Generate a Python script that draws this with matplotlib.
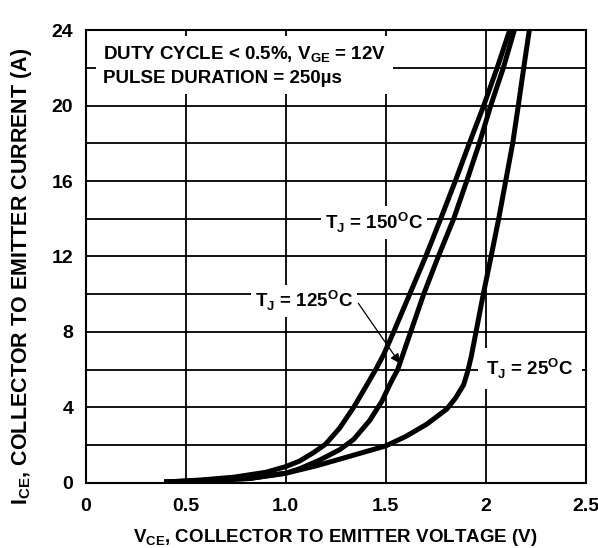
import matplotlib
matplotlib.use('Agg')
import matplotlib.pyplot as plt

plt.rcParams['font.family'] = ['Liberation Sans Narrow', 'Liberation Sans', 'DejaVu Sans']
plt.rcParams['font.weight'] = 'bold'
plt.rcParams['mathtext.fontset'] = 'custom'
plt.rcParams['mathtext.bf'] = 'Liberation Sans:weight=bold'
plt.rcParams['mathtext.rm'] = 'Liberation Sans:weight=bold'

# curve data
v_150 = [0.405, 0.57, 0.74, 0.9, 1.0, 1.07, 1.14, 1.2, 1.27, 1.34, 1.39, 1.45, 1.49, 1.54,
         1.62, 1.70, 1.775, 1.848, 1.918, 1.99, 2.057, 2.12]
i_150 = [0.04, 0.14, 0.29, 0.55, 0.85, 1.15, 1.6, 2.05, 2.9, 4.0, 4.9, 6.0, 6.8, 8.0,
         10.0, 12.0, 14.0, 16.0, 18.0, 20.0, 22.0, 24.0]

v_125 = [0.405, 0.6, 0.82, 1.0, 1.07, 1.17, 1.27, 1.34, 1.42, 1.48, 1.525, 1.56, 1.625,
         1.69, 1.763, 1.84, 1.905, 1.968, 2.025, 2.088, 2.143]
i_125 = [0.04, 0.12, 0.23, 0.5, 0.74, 1.2, 1.75, 2.3, 3.3, 4.3, 5.3, 6.0, 8.0,
         10.0, 12.0, 14.0, 16.0, 18.0, 20.0, 22.0, 24.0]

v_25 = [0.405, 0.6, 0.82, 1.0, 1.155, 1.32, 1.5, 1.6, 1.705, 1.805, 1.85, 1.89, 1.91,
        1.928, 1.948, 1.988, 2.027, 2.065, 2.10, 2.135, 2.163, 2.19, 2.218]
i_25 = [0.04, 0.1, 0.22, 0.5, 0.9, 1.4, 1.95, 2.45, 3.1, 3.9, 4.5, 5.2, 5.9,
        6.7, 7.8, 10.0, 12.0, 14.0, 16.0, 18.0, 20.0, 22.0, 24.0]

x_ticks = [0, 0.5, 1.0, 1.5, 2, 2.5]
x_tick_labels = ['0', '0.5', '1.0', '1.5', '2', '2.5']
y_ticks = [0, 4, 8, 12, 16, 20, 24]

fig = plt.figure(figsize=(5.98, 5.48), dpi=100)
ax = fig.add_axes([0.1433, 0.1192, 0.8361, 0.8255])

ax.set_xlim(0, 2.5)
ax.set_ylim(0, 24)
ax.set_xticks(x_ticks)
ax.set_xticklabels(x_tick_labels)
ax.set_yticks(y_ticks)
ax.set_yticks(range(0, 25, 2), minor=True)
ax.tick_params(which='both', length=0, labelsize=14)
ax.tick_params(axis='x', pad=11)
ax.tick_params(axis='y', pad=9)
for lab in ax.get_xticklabels() + ax.get_yticklabels():
    lab.set_fontweight('bold')

ax.grid(True, which='both', axis='y', color='black', lw=1.3)
ax.grid(True, which='major', axis='x', color='black', lw=1.3)
ax.set_axisbelow(True)
for s in ax.spines.values():
    s.set_linewidth(1.5)

ax.plot(v_150, i_150, color='black', lw=3.6)
ax.plot(v_125, i_125, color='black', lw=3.6)
ax.plot(v_25, i_25, color='black', lw=3.6)

box = dict(facecolor='white', edgecolor='none', pad=3)

ax.text(0.085, 23.25, 'DUTY CYCLE < 0.5%, V$_{\\mathbf{GE}}$ = 12V\nPULSE DURATION = 250\u00b5s',
        fontsize=13.5, fontweight='bold', ha='left', va='top', linespacing=1.4,
        bbox=dict(facecolor='white', edgecolor='none', pad=5), zorder=3)

ax.text(1.44, 13.8, 'T$_{\\mathbf{J}}$ = 150$^{\\mathbf{O}}$C', fontsize=13.5, fontweight='bold',
        ha='center', va='center', bbox=box, zorder=3)
ax.text(1.09, 9.65, 'T$_{\\mathbf{J}}$ = 125$^{\\mathbf{O}}$C', fontsize=13.5, fontweight='bold',
        ha='center', va='center', bbox=box, zorder=3)
ax.text(2.22, 6.05, 'T$_{\\mathbf{J}}$ = 25$^{\\mathbf{O}}$C', fontsize=13.5, fontweight='bold',
        ha='center', va='center', bbox=dict(facecolor='white', edgecolor='none', pad=6), zorder=3)

ax.annotate('', xy=(1.571, 6.33), xytext=(1.363, 9.52),
            arrowprops=dict(arrowstyle='-|>', lw=0.9, color='black', mutation_scale=14,
                            shrinkA=0, shrinkB=0), zorder=4)

fig.text(0.56, 0.02, 'V$_{\\mathbf{CE}}$, COLLECTOR TO EMITTER VOLTAGE (V)',
         fontsize=13.5, fontweight='bold', ha='center', va='center')
fig.text(0.036, 0.495, 'I$_{\\mathbf{CE}}$, COLLECTOR TO EMITTER CURRENT (A)',
         fontsize=15.5, fontweight='bold', ha='center', va='center', rotation=90)

fig.savefig('out.png', dpi=100)
